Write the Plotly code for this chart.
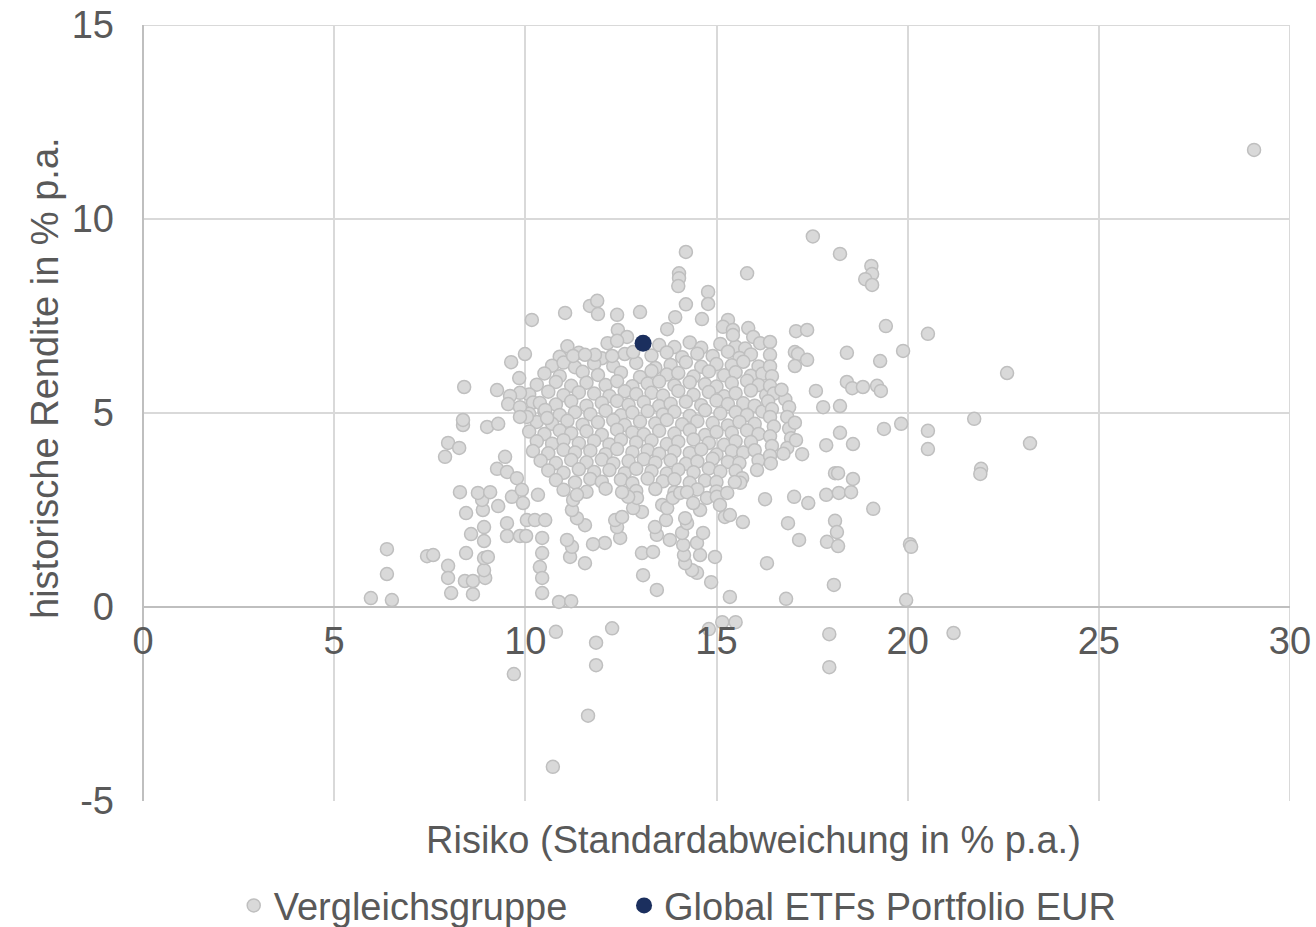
import plotly.graph_objects as go

# ---------------- data ----------------
# Peer group: risk (x, % p.a.) and historical return (y, % p.a.), in groups
right_risk = [29.06, 17.52, 18.23, 19.05, 19.07, 18.89, 19.07, 19.43, 20.53, 17.08,
              17.37, 17.05, 17.13, 17.37, 17.05, 18.41, 19.88, 19.28, 18.41, 18.55,
              18.83, 19.20, 19.30, 17.60, 17.79, 18.23, 21.74, 22.60, 19.83, 19.38,
              20.53, 20.53, 21.92, 21.90, 23.20]
right_return = [11.78, 9.55, 9.10, 8.79, 8.58, 8.45, 8.30, 7.24, 7.04, 7.11,
                7.14, 6.57, 6.52, 6.37, 6.21, 6.55, 6.60, 6.34, 5.80, 5.64,
                5.67, 5.70, 5.57, 5.57, 5.15, 5.18, 4.85, 6.03, 4.72, 4.59,
                4.54, 4.07, 3.56, 3.43, 4.22]

lowright_risk = [18.23, 17.87, 18.57, 17.24, 18.10, 18.18, 18.57, 17.87, 18.20, 18.52,
                 17.03, 17.40, 19.10, 16.87, 17.16, 18.10, 18.15, 17.89, 18.18, 20.06,
                 20.09, 18.07, 16.82, 19.96, 15.35, 14.80, 15.15, 15.50, 17.95, 17.95,
                 21.20]
lowright_return = [4.49, 4.17, 4.20, 3.94, 3.45, 3.45, 3.30, 2.89, 2.94, 2.96,
                   2.84, 2.68, 2.53, 2.16, 1.73, 2.22, 1.93, 1.68, 1.57, 1.62,
                   1.55, 0.57, 0.21, 0.18, 0.26, -0.57, -0.39, -0.39, -0.70, -1.55,
                   -0.67]

low_risk = [5.96, 6.51, 8.06, 8.63, 10.44, 10.88, 11.20, 13.44, 10.80, 12.27,
            11.85, 11.85, 9.70, 11.64, 10.72, 6.38, 6.38, 7.43, 7.59, 7.98,
            7.98, 8.42, 8.63, 8.95, 8.92, 8.45, 8.92, 9.02, 8.58, 8.92,
            8.92, 8.45, 8.29, 8.89, 8.87, 8.76, 9.08, 9.29, 9.52, 9.52,
            9.86, 10.02]
low_return = [0.23, 0.18, 0.36, 0.33, 0.36, 0.13, 0.15, 0.44, -0.64, -0.55,
              -0.92, -1.50, -1.73, -2.80, -4.12, 1.49, 0.85, 1.31, 1.34, 1.06,
              0.75, 0.67, 0.67, 0.75, 0.95, 1.39, 1.26, 1.29, 1.88, 1.70,
              2.06, 2.42, 2.96, 2.50, 2.76, 2.94, 2.96, 2.60, 2.16, 1.83,
              1.83, 1.83]

left_risk = [7.98, 8.27, 7.90, 8.37, 9.00, 9.29, 9.47, 9.26, 9.52, 9.78,
             9.65, 9.91, 9.94, 10.04, 10.25, 10.33, 10.52, 10.44, 10.44, 10.38,
             10.44, 10.17, 11.04, 9.99, 9.63, 9.84, 9.86, 9.60, 9.55, 9.86,
             8.40, 9.26, 10.38, 10.52, 10.57, 10.04, 9.86, 8.37]
left_return = [4.23, 4.10, 3.87, 4.69, 4.64, 4.72, 3.87, 3.56, 3.48, 3.32,
               2.84, 3.02, 2.68, 2.24, 2.24, 2.89, 2.24, 1.78, 1.39, 1.03,
               0.75, 7.40, 7.58, 6.52, 6.31, 5.90, 5.52, 5.44, 5.23, 5.15,
               5.67, 5.59, 5.26, 5.08, 4.87, 4.90, 4.90, 4.82]

top_risk = [14.20, 14.02, 14.02, 14.00, 15.80, 14.78, 14.78, 14.20, 14.62, 13.92,
            13.71, 11.69, 11.88, 11.90, 12.40, 13.00, 12.42, 12.66, 12.40, 15.30,
            15.17, 15.43, 15.43, 15.83, 15.96, 16.14, 16.40, 16.40, 11.82, 11.25,
            11.56, 12.27, 12.82]
top_return = [9.15, 8.60, 8.47, 8.27, 8.60, 8.12, 7.81, 7.80, 7.42, 7.47,
              7.16, 7.76, 7.89, 7.55, 7.53, 7.60, 7.14, 6.96, 6.86, 7.40,
              7.22, 7.14, 7.01, 7.19, 6.96, 6.80, 6.83, 6.50, 6.50, 6.47,
              6.50, 6.47, 6.57]

mid_risk = [16.27, 15.69, 16.32, 14.96, 14.86, 14.57, 14.49, 14.36, 14.18, 14.15,
            14.13, 14.49, 14.65, 13.08, 13.05, 13.34, 13.78, 13.44, 13.39, 13.68,
            14.10, 14.23, 14.18, 12.48, 12.08, 11.77, 12.40, 12.35, 12.53, 11.56,
            11.17, 11.22, 11.09, 11.56, 11.35, 11.22, 11.25, 11.35, 13.05, 12.82,
            12.92, 12.69, 12.53, 13.58, 13.71, 13.86, 14.05, 14.23, 14.57, 14.39,
            14.75, 15.01, 15.09, 15.28, 15.22, 15.35, 16.06, 15.67, 15.62, 15.48]
mid_return = [2.78, 2.19, 1.13, 1.29, 0.64, 1.34, 0.88, 0.95, 1.13, 1.34,
              1.60, 1.65, 1.91, 0.82, 1.39, 1.42, 1.73, 1.86, 2.06, 2.24,
              1.91, 2.16, 2.29, 1.78, 1.65, 1.62, 2.06, 2.24, 2.32, 1.13,
              1.29, 1.55, 1.73, 2.11, 2.29, 2.50, 2.76, 2.89, 2.45, 2.55,
              2.81, 2.84, 2.96, 2.63, 2.55, 2.81, 2.94, 2.96, 2.50, 2.68,
              2.81, 2.84, 2.63, 2.94, 2.32, 2.37, 3.53, 3.32, 3.20, 3.22]

edge_risk = [16.40, 16.45, 16.40, 16.50, 16.35, 16.45, 16.40, 16.50, 16.40, 16.45,
             16.40, 16.42, 16.80, 16.90, 16.85, 16.90, 16.95, 16.85, 17.05, 17.08,
             16.70, 16.75]
edge_return = [6.20, 5.95, 5.70, 5.50, 5.30, 5.10, 4.90, 4.65, 4.40, 4.15,
               3.90, 3.70, 5.35, 5.15, 4.90, 4.60, 4.35, 4.10, 4.75, 4.30,
               5.60, 3.95]

core_risk = [
    11.10, 12.15, 13.50, 13.90, 14.30, 14.60, 15.10, 15.50, 15.75,
    10.90, 11.40, 12.00, 12.60, 13.30, 13.70, 14.10, 14.50, 14.90, 15.30, 15.60, 15.90,
    10.70, 11.00, 11.30, 11.80, 12.30, 12.90, 13.40, 13.80, 14.20, 14.60, 15.00, 15.40, 15.70, 16.10,
    10.50, 10.90, 11.50, 11.90, 12.50, 13.00, 13.30, 13.70, 14.00, 14.40, 14.80, 15.20, 15.50, 15.90, 16.20,
    10.30, 10.80, 11.20, 11.60, 12.10, 12.40, 12.80, 13.20, 13.50, 13.90, 14.30, 14.70, 15.00, 15.40, 15.80, 16.10,
    10.10, 10.60, 11.00, 11.40, 11.80, 12.20, 12.60, 12.90, 13.30, 13.60, 14.00, 14.40, 14.80, 15.20, 15.50, 15.90, 16.30,
    10.20, 10.80, 11.20, 11.60, 12.00, 12.40, 12.70, 13.10, 13.50, 13.80, 14.20, 14.60, 15.00, 15.30, 15.70, 16.00,
    10.10, 10.50, 10.90, 11.30, 11.70, 12.10, 12.50, 12.80, 13.20, 13.60, 13.90, 14.30, 14.70, 15.10, 15.50, 15.80, 16.20,
    10.30, 10.70, 11.10, 11.50, 11.90, 12.30, 12.60, 13.00, 13.40, 13.70, 14.10, 14.50, 14.90, 15.30, 15.60, 16.00,
    10.10, 10.50, 10.90, 11.20, 11.60, 12.00, 12.40, 12.80, 13.10, 13.50, 13.90, 14.30, 14.70, 15.00, 15.40, 15.80, 16.10,
    10.30, 10.70, 11.00, 11.40, 11.80, 12.20, 12.50, 12.90, 13.30, 13.70, 14.00, 14.40, 14.80, 15.20, 15.50, 15.90,
    10.20, 10.60, 11.00, 11.30, 11.70, 12.10, 12.40, 12.80, 13.20, 13.50, 13.90, 14.30, 14.60, 15.00, 15.40, 15.70, 16.00,
    10.40, 10.80, 11.20, 11.60, 12.00, 12.30, 12.70, 13.10, 13.40, 13.80, 14.20, 14.50, 14.90, 15.30, 15.60, 16.10,
    10.60, 11.00, 11.40, 11.80, 12.20, 12.60, 12.90, 13.30, 13.70, 14.00, 14.40, 14.80, 15.10, 15.50,
    10.80, 11.30, 11.70, 12.00, 12.50, 12.80, 13.20, 13.60, 13.90, 14.30, 14.70, 15.00,
    11.00, 11.60, 12.10, 12.90, 13.40, 13.90, 14.50, 15.00,
]
core_return = [
    6.72, 6.80, 6.75, 6.70, 6.82, 6.68, 6.78, 6.71, 6.66,
    6.45, 6.55, 6.41, 6.52, 6.48, 6.56, 6.44, 6.53, 6.47, 6.58, 6.42, 6.51,
    6.22, 6.30, 6.18, 6.27, 6.21, 6.29, 6.16, 6.24, 6.31, 6.19, 6.26, 6.23, 6.32, 6.20,
    6.02, 5.95, 6.06, 5.98, 6.04, 5.93, 6.08, 5.99, 6.03, 5.94, 6.07, 5.97, 6.05, 5.96, 6.01,
    5.73, 5.80, 5.70, 5.78, 5.72, 5.82, 5.69, 5.76, 5.81, 5.71, 5.79, 5.74, 5.68, 5.77, 5.83, 5.72,
    5.48, 5.55, 5.46, 5.53, 5.50, 5.44, 5.56, 5.49, 5.52, 5.45, 5.57, 5.47, 5.54, 5.43, 5.51, 5.58, 5.46,
    5.27, 5.22, 5.30, 5.19, 5.26, 5.31, 5.21, 5.28, 5.18, 5.24, 5.29, 5.20, 5.32, 5.23, 5.25, 5.19,
    4.98, 5.04, 4.95, 5.02, 4.97, 5.06, 4.94, 5.01, 5.05, 4.96, 5.03, 4.93, 5.07, 4.99, 5.02, 4.95, 5.04,
    4.77, 4.72, 4.80, 4.70, 4.76, 4.81, 4.69, 4.78, 4.73, 4.82, 4.71, 4.79, 4.74, 4.68, 4.77, 4.72,
    4.52, 4.46, 4.55, 4.48, 4.53, 4.44, 4.57, 4.50, 4.45, 4.54, 4.47, 4.56, 4.43, 4.51, 4.49, 4.55, 4.46,
    4.27, 4.21, 4.30, 4.22, 4.28, 4.19, 4.31, 4.24, 4.29, 4.20, 4.26, 4.32, 4.23, 4.18, 4.27, 4.25,
    4.02, 3.96, 4.05, 3.98, 4.03, 3.94, 4.07, 3.99, 4.04, 3.95, 4.01, 3.97, 4.06, 3.93, 4.02, 3.98, 4.04,
    3.77, 3.71, 3.79, 3.73, 3.80, 3.70, 3.76, 3.81, 3.72, 3.78, 3.69, 3.75, 3.82, 3.74, 3.71, 3.78,
    3.52, 3.46, 3.55, 3.48, 3.53, 3.45, 3.56, 3.50, 3.44, 3.54, 3.47, 3.57, 3.49, 3.51,
    3.27, 3.21, 3.30, 3.23, 3.28, 3.19, 3.31, 3.24, 3.29, 3.20, 3.26, 3.22,
    3.02, 2.97, 3.05, 2.99, 3.04, 2.96, 3.03, 2.98,
]

portfolio_risk = [13.08]
portfolio_return = [6.80]

series_names = ["Vergleichsgruppe", "Global ETFs Portfolio EUR"]
x_ticks = [0, 5, 10, 15, 20, 25, 30]
y_ticks = [-5, 0, 5, 10, 15]
x_title = "Risiko (Standardabweichung in % p.a.)"
y_title = "historische Rendite in % p.a."

# ---------------- figure ----------------
peer_risk = (core_risk + right_risk + lowright_risk + low_risk + left_risk
             + top_risk + mid_risk + edge_risk)
peer_return = (core_return + right_return + lowright_return + low_return + left_return
               + top_return + mid_return + edge_return)

FONT = "Liberation Sans, Arial, Helvetica, sans-serif"
FS = 38
TXT = "#595959"
GRID = "#D9D9D9"

fig = go.Figure()
fig.add_trace(go.Scatter(
    x=peer_risk, y=peer_return, mode="markers", name=series_names[0],
    marker=dict(size=13, color="#D9D9D9", line=dict(color="#BFBFBF", width=1.5)),
    legend="legend",
))
fig.add_trace(go.Scatter(
    x=portfolio_risk, y=portfolio_return, mode="markers", name=series_names[1],
    marker=dict(size=17, color="#1B2F5E", line=dict(color="#1B2F5E", width=0)),
    legend="legend2",
))

legend_common = dict(
    orientation="h", xref="container", yref="container",
    xanchor="left", y=0.023, yanchor="middle",
    font=dict(family=FONT, size=FS, color=TXT),
    itemsizing="trace", bgcolor="rgba(0,0,0,0)",
)

# gridlines at the far ends of the ranges (top and right border)
edge_shapes = [
    dict(type="line", xref="x", yref="y", x0=x_ticks[0], x1=x_ticks[-1],
         y0=y_ticks[-1], y1=y_ticks[-1], line=dict(color=GRID, width=2), layer="below"),
    dict(type="line", xref="x", yref="y", x0=x_ticks[-1], x1=x_ticks[-1],
         y0=y_ticks[0], y1=y_ticks[-1], line=dict(color=GRID, width=2), layer="below"),
]

fig.update_layout(
    width=1316, height=927,
    margin=dict(l=143, r=26, t=25, b=126, pad=0, autoexpand=False),
    paper_bgcolor="white", plot_bgcolor="white",
    font=dict(family=FONT, size=FS, color=TXT),
    showlegend=True,
    legend=dict(x=0.1776, **legend_common),
    legend2=dict(x=0.4742, **legend_common),
    shapes=edge_shapes,
    xaxis=dict(
        range=[0, 30], tickvals=x_ticks, ticktext=[str(v) for v in x_ticks],
        showgrid=True, gridcolor=GRID, gridwidth=2,
        zeroline=True, zerolinecolor="#BFBFBF", zerolinewidth=2,
        showline=False, ticks="", anchor="free", position=0.25,
        ticklabelstandoff=8, automargin=False,
        tickfont=dict(family=FONT, size=FS, color=TXT),
        fixedrange=True,
    ),
    yaxis=dict(
        range=[-5, 15], tickvals=y_ticks, ticktext=[str(v) for v in y_ticks],
        showgrid=True, gridcolor=GRID, gridwidth=2,
        zeroline=True, zerolinecolor="#BFBFBF", zerolinewidth=2,
        showline=False, ticks="", ticklabelstandoff=28, automargin=False,
        tickfont=dict(family=FONT, size=FS, color=TXT),
        fixedrange=True,
    ),
    annotations=[
        dict(text=x_title, xref="paper", yref="paper",
             x=(753 - 143) / 1147, y=(801 - 840) / 776,
             xanchor="center", yanchor="middle", showarrow=False,
             font=dict(family=FONT, size=FS, color=TXT)),
        dict(text=y_title, xref="paper", yref="paper",
             x=(45 - 143) / 1147, y=(801 - 378) / 776, textangle=-90,
             xanchor="center", yanchor="middle", showarrow=False,
             font=dict(family=FONT, size=FS, color=TXT)),
    ],
)

fig.write_html("out.html", config={"displayModeBar": False},
               post_script="document.body.style.margin='0';")
